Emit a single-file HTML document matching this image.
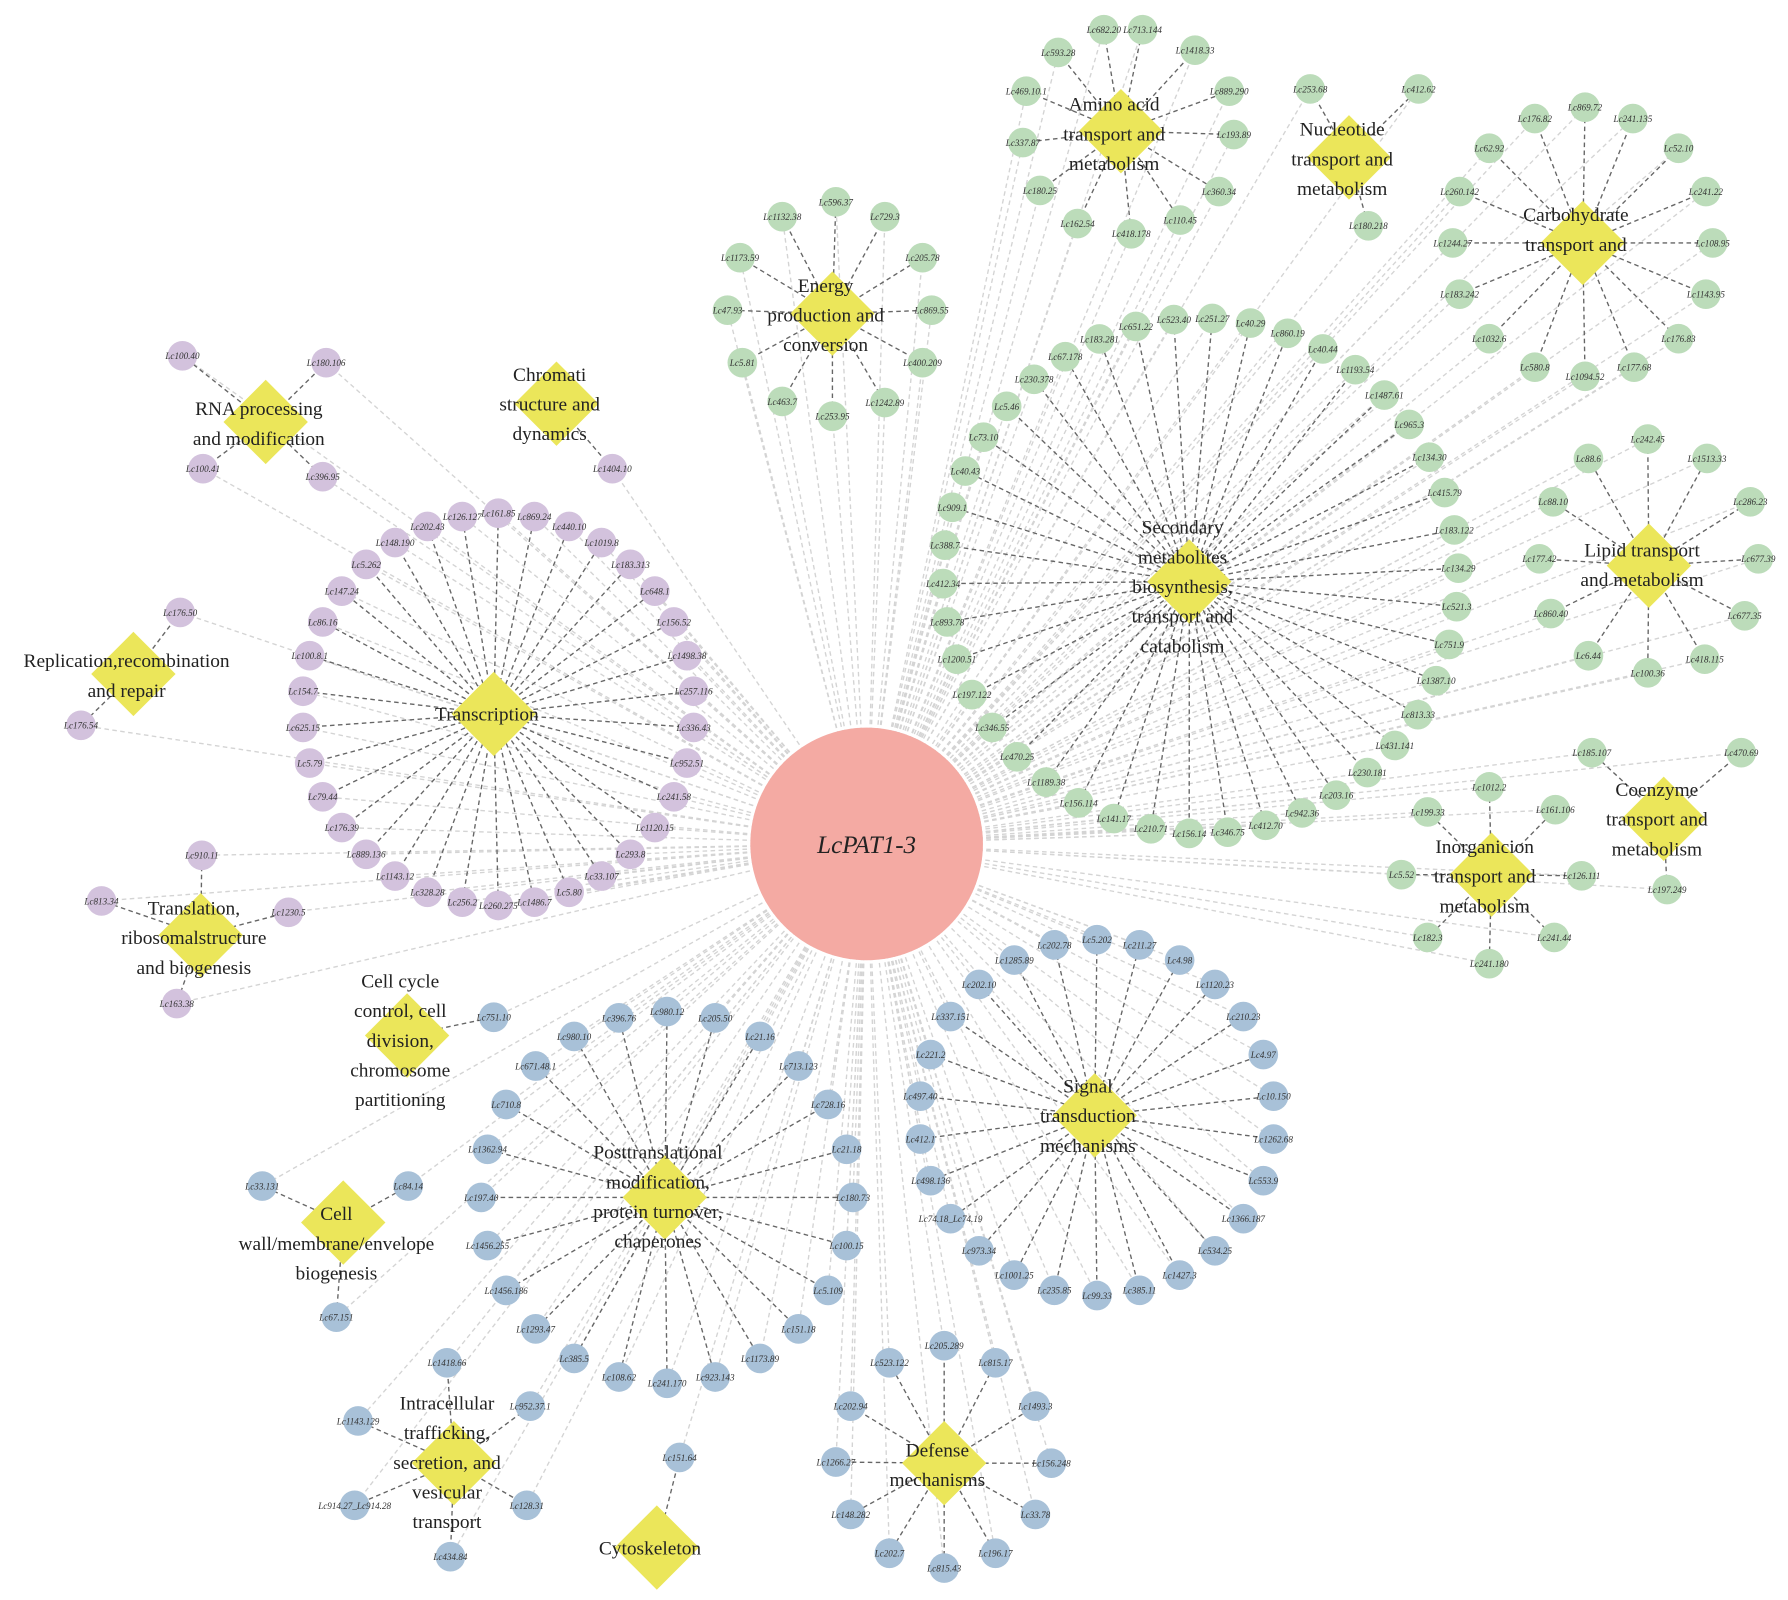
<!DOCTYPE html>
<html><head><meta charset="utf-8"><style>
html,body{margin:0;padding:0;background:#fff;}
svg{display:block;}
</style></head><body>
<svg id="s" xmlns="http://www.w3.org/2000/svg" width="1788" height="1600" viewBox="0 0 1568 1403" preserveAspectRatio="none">
<g id="gl"></g><g id="dl"></g><g id="nd"></g><g id="hb"></g><g id="tx"></g>
<circle cx="760" cy="740" r="102" fill="#f4aaa3"/>
<text x="760" y="748" text-anchor="middle" font-family="Liberation Serif, serif" font-style="italic" font-size="22" fill="#222">LcPAT1-3</text>
</svg>
<script>
const NS="http://www.w3.org/2000/svg";
const C={x:760,y:740};
const G="#bcdcba",P="#d3c2dd",B="#a8c1d8";
function el(p,t,a,txt){const e=document.createElementNS(NS,t);for(const k in a)e.setAttribute(k,a[k]);if(txt!==undefined)e.textContent=txt;document.getElementById(p).appendChild(e);return e;}
function ring(cx,cy,r,labels,start){const n=labels.length;return labels.map((l,i)=>{const a=(start+360*i/n)*Math.PI/180;return [l,cx+r*Math.cos(a),cy+r*Math.sin(a)];});}
function cluster(hx,hy,col,nodes,lines,ly){
  nodes.forEach(([l,x,y])=>{
    el("gl","line",{x1:C.x,y1:C.y,x2:x,y2:y,stroke:"#d4d4d4","stroke-width":1.2,"stroke-dasharray":"4,3"});
    el("dl","line",{x1:hx,y1:hy,x2:x,y2:y,stroke:"#666","stroke-width":1.2,"stroke-dasharray":"4,3"});
    el("nd","circle",{cx:x,cy:y,r:13,fill:col});
    el("tx","text",{x:x,y:y+3,"text-anchor":"middle","font-family":"Liberation Serif, serif","font-style":"italic","font-size":8,fill:"#333"},"Lc"+l);
  });
  el("hb","polygon",{points:`${hx},${hy-37} ${hx+37},${hy} ${hx},${hy+37} ${hx-37},${hy}`,fill:"#ebe65a"});
  lines.forEach((t,i)=>el("tx","text",{x:hx-6,y:ly+i*26,"text-anchor":"middle","font-family":"Liberation Serif, serif","font-size":17,fill:"#222"},t));
}
// Transcription
cluster(433,626,P,ring(437,622,172,["161.85","869.24","440.10","1019.8","183.313","648.1","156.52","1498.38","257.116","336.43","952.51","241.58","1120.15","293.8","33.107","5.80","1486.7","260.275","256.2","328.28","1143.12","889.136","176.39","79.44","5.79","625.15","154.7","100.8.1","86.16","147.24","5.262","148.190","202.43","126.127"],-90),["Transcription"],632);
cluster(233,370,P,[["100.40",160,312],["180.106",286,318],["100.41",178,411],["396.95",283,418]],["RNA processing","and modification"],364);
cluster(488,354,P,[["1404.10",537,411]],["Chromati","structure and","dynamics"],334);
cluster(117,591,P,[["176.50",158,537],["176.54",71,636]],["Replication,recombination","and repair"],585);
cluster(176,820,P,[["910.11",177,750],["813.34",89,790],["1230.5",253,800],["163.38",155,880]],["Translation,","ribosomalstructure","and biogenesis"],802);
cluster(730,275,G,[["596.37",733,177],["729.3",776,190],["205.78",809,226],["869.55",817,272],["400.209",809,318],["1242.89",776,353],["253.95",730,365],["463.7",686,352],["5.81",651,318],["47.93",638,272],["1173.59",649,226],["1132.38",686,190]],["Energy","production and","conversion"],256);
cluster(983,115,G,[["682.20",968,26],["713.144",1002,26],["1418.33",1048,44],["889.290",1078,80],["193.89",1082,118],["360.34",1069,168],["110.45",1035,193],["418.178",992,205],["162.54",945,196],["180.25",912,167],["337.87",897,125],["469.10.1",900,80],["593.28",928,46]],["Amino acid","transport and","metabolism"],97);
cluster(1183,138,G,[["253.68",1149,78],["412.62",1244,78],["180.218",1200,198]],["Nucleotide","transport and","metabolism"],119);
cluster(1388,213,G,[["869.72",1390,94],["241.135",1432,104],["52.10",1472,130],["241.22",1496,168],["108.95",1502,213],["1143.95",1496,258],["176.83",1472,297],["177.68",1433,322],["1094.52",1390,330],["580.8",1346,322],["1032.6",1306,297],["183.242",1280,258],["1244.27",1274,213],["260.142",1280,168],["62.92",1306,130],["176.82",1346,104]],["Carbohydrate","transport and"],194);
cluster(1043,510,G,ring(1053,505,226,["523.40","251.27","40.29","860.19","40.44","1193.54","1487.61","965.3","134.30","415.79","183.122","134.29","521.3","751.9","1387.10","813.33","431.141","230.181","203.16","942.36","412.70","346.75","156.14","210.71","141.17","156.114","1189.38","470.25","346.55","197.122","1200.51","893.78","412.34","388.7","909.1","40.43","73.10","5.46","230.378","67.178","183.281","651.22"],-96),["Secondary","metabolites","biosynthesis,","transport and","catabolism"],468);
cluster(1446,496,G,[["242.45",1445,385],["1513.33",1497,402],["286.23",1535,440],["677.39",1542,490],["677.35",1530,540],["418.115",1495,578],["100.36",1445,590],["6.44",1393,575],["860.40",1360,538],["177.42",1350,490],["88.10",1362,440],["88.6",1393,402]],["Lipid transport","and metabolism"],488);
cluster(1459,718,G,[["185.107",1396,660],["470.69",1527,660],["197.249",1462,780]],["Coenzyme","transport and","metabolism"],698);
cluster(1308,767,G,[["1012.2",1306,690],["161.106",1364,710],["199.33",1252,712],["126.111",1387,768],["5.52",1229,767],["241.44",1363,822],["182.3",1252,822],["241.180",1306,845]],["Inorganicion","transport and","metabolism"],748);
cluster(960,978,B,ring(962,980,156,["5.202","211.27","4.98","1120.23","210.23","4.97","10.150","1262.68","553.9","1366.187","534.25","1427.3","385.11","99.33","235.85","1001.25","973.34","74.18_Lc74.19","498.136","412.1","497.40","221.2","337.151","202.10","1285.89","202.78"],-90),["Signal","transduction","mechanisms"],958);
cluster(583,1050,B,ring(585,1050,163,["980.12","205.50","21.16","713.123","728.16","21.18","180.73","100.15","5.109","151.18","1173.89","923.143","241.170","108.62","385.5","1293.47","1456.186","1456.255","197.40","1362.94","710.8","671.48.1","980.10","396.76"],-90),["Posttranslational","modification,","protein turnover,","chaperones"],1016);
cluster(357,908,B,[["751.10",433,892]],["Cell cycle","control, cell","division,","chromosome","partitioning"],866);
cluster(301,1072,B,[["33.131",230,1040],["84.14",358,1040],["67.151",295,1155]],["Cell","wall/membrane/envelope","biogenesis"],1070);
cluster(398,1283,B,[["1418.66",392,1195],["952.37.1",465,1233],["1143.129",314,1246],["128.31",462,1320],["914.27_Lc914.28",311,1320],["434.84",395,1365]],["Intracellular","trafficking,","secretion, and","vesicular","transport"],1236);
cluster(576,1357,B,[["151.64",596,1278]],["Cytoskeleton"],1363);
cluster(828,1283,B,[["205.289",828,1180],["815.17",873,1195],["1493.3",908,1233],["156.248",922,1283],["33.78",908,1328],["196.17",873,1362],["815.43",828,1375],["202.7",780,1362],["148.282",746,1328],["1266.27",733,1282],["202.94",746,1233],["523.122",780,1195]],["Defense","mechanisms"],1277);
</script>
</body></html>
